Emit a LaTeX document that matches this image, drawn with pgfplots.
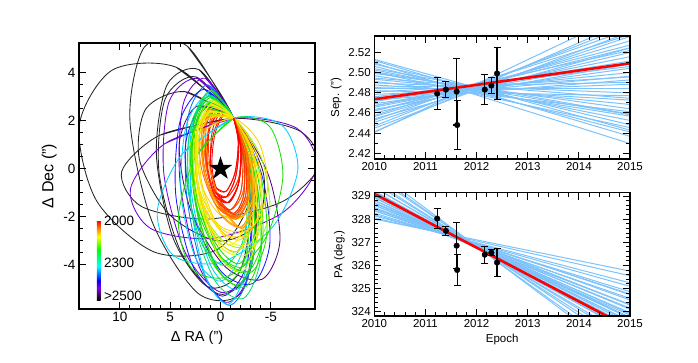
\documentclass[border=0pt]{standalone}
\usepackage{pgfplots}
\pgfplotsset{compat=1.18}
\usepackage{fontspec}
\setmainfont{Liberation Sans}
\definecolor{cR1}{rgb}{1,0,0}
\definecolor{cR2}{rgb}{1,0.22,0}
\definecolor{cO1}{rgb}{1,0.42,0}
\definecolor{cO2}{rgb}{1,0.6,0}
\definecolor{cY1}{rgb}{1,0.82,0}
\definecolor{cY2}{rgb}{0.92,0.95,0}
\definecolor{cYG}{rgb}{0.6,0.95,0}
\definecolor{cG1}{rgb}{0.1,0.88,0}
\definecolor{cG2}{rgb}{0,0.88,0.45}
\definecolor{cC1}{rgb}{0,0.82,1}
\definecolor{cA1}{rgb}{0,0.45,1}
\definecolor{cB1}{rgb}{0.1,0.1,1}
\definecolor{cP1}{rgb}{0.45,0,0.85}
\definecolor{cP2}{rgb}{0.35,0,0.5}
\definecolor{cK}{rgb}{0.15,0.15,0.15}
\definecolor{fancol}{rgb}{0.49,0.76,0.98}
\pgfplotsset{colormap={orb}{rgb(0pt)=(0,0,0); rgb(50pt)=(0.35,0,0.5); rgb(80pt)=(0.5,0,0.9); rgb(125pt)=(0,0,1); rgb(170pt)=(0,0.5,1); rgb(215pt)=(0,1,1); rgb(320pt)=(0,1,0); rgb(400pt)=(1,1,0); rgb(455pt)=(1,0.5,0); rgb(500pt)=(1,0,0)}}
\pgfdeclareplotmark{bigstar}{%
  \pgfpathmoveto{\pgfpointpolar{90}{\pgfplotmarksize}}%
  \pgfpathlineto{\pgfpointpolar{126}{0.382\pgfplotmarksize}}%
  \pgfpathlineto{\pgfpointpolar{162}{\pgfplotmarksize}}%
  \pgfpathlineto{\pgfpointpolar{198}{0.382\pgfplotmarksize}}%
  \pgfpathlineto{\pgfpointpolar{234}{\pgfplotmarksize}}%
  \pgfpathlineto{\pgfpointpolar{270}{0.382\pgfplotmarksize}}%
  \pgfpathlineto{\pgfpointpolar{306}{\pgfplotmarksize}}%
  \pgfpathlineto{\pgfpointpolar{342}{0.382\pgfplotmarksize}}%
  \pgfpathlineto{\pgfpointpolar{18}{\pgfplotmarksize}}%
  \pgfpathlineto{\pgfpointpolar{54}{0.382\pgfplotmarksize}}%
  \pgfpathclose
  \pgfusepathqfill
}
\pgfplotsset{
  idl/.style={scale only axis, anchor=south west, axis on top,
    axis line style={line width=1.1pt}, tick align=inside, xtick pos=both, ytick pos=both,
    every tick/.style={black, line width=0.8pt}, major tick length=7pt, minor tick length=4pt,
    /pgf/number format/assume math mode=true},
  orb/.style={smooth, no markers, line width=0.85pt},
  fan/.style={no markers, color=fancol, line width=1pt},
}
\begin{document}
\begin{tikzpicture}
\path[use as bounding box] (0,0) rectangle (698pt,362pt);
% ---------------- left panel: orbits ----------------
\begin{axis}[idl, at={(79pt,53pt)}, width=236pt, height=266pt,
  x dir=reverse, xmin=-9.38, xmax=14.05, ymin=-5.85, ymax=5.24,
  xtick={-5,0,5,10}, ytick={-4,-2,0,2,4}, minor x tick num=4, minor y tick num=3,
  tick label style={font=\fontsize{13.5}{15}\selectfont},
  xlabel style={font=\fontsize{14.5}{16}\selectfont, yshift=-2pt},
  ylabel style={font=\fontsize{16}{18}\selectfont},
  xlabel={Δ RA (")}, ylabel={Δ Dec (")}]
% black (>2500)
\addplot[orb,cK] coordinates {(-1.3,2.1)(6.02,1.397)(9.814,-0.125)(7.859,-1.573)(1.3,-2.1)(-6.02,-1.397)(-9.814,0.125)(-7.859,1.573)(-1.3,2.1)(6.02,1.397)};
\addplot[orb,cK] coordinates {(-1.3,2.1)(4.415,4.231)(10.765,4.106)(14.031,1.797)(12.3,-1.342)(6.585,-3.473)(0.235,-3.348)(-3.031,-1.039)(-1.3,2.1)(4.415,4.231)};
\addplot[orb,cK] coordinates {(-1.3,2.1)(3.273,5.098)(7.54,5.08)(9.001,2.057)(6.8,-2.2)(2.227,-5.198)(-2.04,-5.18)(-3.501,-2.157)(-1.3,2.1)(3.273,5.098)};
\addplot[orb,cK] coordinates {(-1.3,2.1)(2.432,3.826)(5.5,2.9)(6.108,-0.134)(3.9,-3.5)(0.168,-5.226)(-2.9,-4.3)(-3.508,-1.266)(-1.3,2.1)(2.432,3.826)};
\addplot[orb,cK] coordinates {(-1.3,2.1)(2.125,4.126)(5.3,3.5)(6.367,0.59)(4.7,-2.9)(1.275,-4.926)(-1.9,-4.3)(-2.967,-1.39)(-1.3,2.1)(2.125,4.126)};
\addplot[orb,cK] coordinates {(-1.3,2.1)(3.526,3.211)(7.4,2.5)(8.052,0.383)(5.1,-1.9)(0.274,-3.011)(-3.6,-2.3)(-4.252,-0.183)(-1.3,2.1)(3.526,3.211)};
% red / orange full loops (underneath)
\addplot[orb,cR1] coordinates {(-1.3,2.1)(-0.258,2.282)(0.7,1.45)(1.014,0.09)(0.5,-1.0)(-0.542,-1.182)(-1.5,-0.35)(-1.814,1.01)(-1.3,2.1)(-0.258,2.282)};
\addplot[orb,cR1] coordinates {(-1.3,2.1)(-0.147,2.409)(0.8,1.6)(0.985,0.147)(0.3,-1.1)(-0.853,-1.409)(-1.8,-0.6)(-1.985,0.853)(-1.3,2.1)(-0.147,2.409)};
\addplot[orb,cR2] coordinates {(-1.3,2.1)(0.054,2.368)(1.2,1.6)(1.468,0.246)(0.7,-0.9)(-0.654,-1.168)(-1.8,-0.4)(-2.068,0.954)(-1.3,2.1)(0.054,2.368)};
\addplot[orb,cR2] coordinates {(-1.3,2.1)(0.08,2.521)(1.15,1.7)(1.282,0.117)(0.4,-1.3)(-0.98,-1.721)(-2.05,-0.9)(-2.182,0.683)(-1.3,2.1)(0.08,2.521)};
\addplot[orb,cO1] coordinates {(-1.3,2.1)(0.321,2.607)(1.55,1.85)(1.665,0.273)(0.6,-1.2)(-1.021,-1.707)(-2.25,-0.95)(-2.365,0.627)(-1.3,2.1)(0.321,2.607)};
\addplot[orb,cO1] coordinates {(-1.3,2.1)(0.405,2.704)(1.55,1.9)(1.465,0.158)(0.2,-1.5)(-1.505,-2.104)(-2.65,-1.3)(-2.565,0.442)(-1.3,2.1)(0.405,2.704)};
\addplot[orb,cR1] coordinates {(-1.3,2.1)(-0.344,2.241)(0.55,1.45)(0.858,0.191)(0.4,-0.8)(-0.556,-0.941)(-1.45,-0.15)(-1.758,1.109)(-1.3,2.1)(-0.344,2.241)};
\addplot[orb,cR2] coordinates {(-1.3,2.1)(0.107,2.663)(1.1,1.9)(1.097,0.259)(0.1,-1.3)(-1.307,-1.863)(-2.3,-1.1)(-2.297,0.541)(-1.3,2.1)(0.107,2.663)};
\addplot[orb,cR1] coordinates {(-1.3,2.1)(0.003,2.409)(1.1,1.6)(1.347,0.147)(0.6,-1.1)(-0.703,-1.409)(-1.8,-0.6)(-2.047,0.853)(-1.3,2.1)(0.003,2.409)};
\addplot[orb,cR2] coordinates {(-1.3,2.1)(0.299,2.612)(1.4,1.8)(1.359,0.138)(0.2,-1.4)(-1.399,-1.912)(-2.5,-1.1)(-2.459,0.562)(-1.3,2.1)(0.299,2.612)};
\addplot[orb,cO1] coordinates {(-1.3,2.1)(0.661,2.634)(2.0,1.8)(1.933,0.088)(0.5,-1.5)(-1.461,-2.034)(-2.8,-1.2)(-2.733,0.512)(-1.3,2.1)(0.661,2.634)};
\addplot[orb,cO2] coordinates {(-1.3,2.1)(0.714,2.392)(1.9,1.4)(1.562,-0.294)(-0.1,-1.7)(-2.114,-1.992)(-3.3,-1.0)(-2.962,0.694)(-1.3,2.1)(0.714,2.392)};
\addplot[orb,cY1] coordinates {(-1.3,2.1)(0.956,2.221)(2.3,1.1)(1.946,-0.607)(0.1,-1.9)(-2.156,-2.021)(-3.5,-0.9)(-3.146,0.807)(-1.3,2.1)(0.956,2.221)};
\addplot[orb,cO2] coordinates {(-1.3,2.1)(0.472,2.886)(1.5,2.1)(1.18,0.2)(-0.3,-1.7)(-2.072,-2.486)(-3.1,-1.7)(-2.78,0.2)(-1.3,2.1)(0.472,2.886)};
\addplot[orb,cO1] coordinates {(-1.3,2.1)(0.49,2.477)(1.7,1.55)(1.622,-0.139)(0.3,-1.6)(-1.49,-1.977)(-2.7,-1.05)(-2.622,0.639)(-1.3,2.1)(0.49,2.477)};
\addplot[orb,cO2] coordinates {(-1.3,2.1)(0.658,2.645)(1.85,1.7)(1.578,-0.183)(0,-1.9)(-1.958,-2.445)(-3.15,-1.5)(-2.878,0.383)(-1.3,2.1)(0.658,2.645)};
% purple
\addplot[orb,cP1] coordinates {(-1.3,2.1)(1.49,3.767)(3.7,2.7)(4.036,-0.475)(2.3,-3.9)(-0.49,-5.567)(-2.7,-4.5)(-3.036,-1.325)(-1.3,2.1)(1.49,3.767)};
\addplot[orb,cP2] coordinates {(-1.3,2.1)(2.353,2.606)(4.1,1.0)(2.919,-1.778)(-0.5,-4.1)(-4.153,-4.606)(-5.9,-3.0)(-4.719,-0.222)(-1.3,2.1)(2.353,2.606)};
\addplot[orb,cP1] coordinates {(-1.3,2.1)(2.231,3.755)(5.1,2.8)(5.625,-0.205)(3.5,-3.5)(-0.031,-5.155)(-2.9,-4.2)(-3.425,-1.195)(-1.3,2.1)(2.231,3.755)};
\addplot[orb,cP1] coordinates {(-1.3,2.1)(5.531,1.043)(8.946,-0.859)(6.945,-2.492)(0.7,-2.9)(-6.131,-1.843)(-9.546,0.059)(-7.545,1.692)(-1.3,2.1)(5.531,1.043)};
% blue
\addplot[orb,cA1] coordinates {(-1.3,2.1)(1.26,3.496)(3.2,2.2)(3.382,-1.03)(1.7,-4.3)(-0.86,-5.696)(-2.8,-4.4)(-2.982,-1.17)(-1.3,2.1)(1.26,3.496)};
\addplot[orb,cB1] coordinates {(-1.3,2.1)(1.846,2.577)(3.5,0.9)(2.694,-1.949)(-0.1,-4.3)(-3.246,-4.777)(-4.9,-3.1)(-4.094,-0.251)(-1.3,2.1)(1.846,2.577)};
\addplot[orb,cB1] coordinates {(-1.3,2.1)(1.619,3.313)(4.0,2.0)(4.447,-1.071)(2.7,-4.1)(-0.219,-5.313)(-2.6,-4.0)(-3.047,-0.929)(-1.3,2.1)(1.619,3.313)};
% cyan
\addplot[orb,cC1] coordinates {(-1.3,2.1)(0.948,3.254)(2.7,1.8)(2.928,-1.412)(1.5,-4.5)(-0.748,-5.654)(-2.5,-4.2)(-2.728,-0.988)(-1.3,2.1)(0.948,3.254)};
\addplot[orb,cG2] coordinates {(-1.3,2.1)(1.51,2.801)(3.2,1.1)(2.782,-2.007)(0.5,-4.7)(-2.31,-5.401)(-4.0,-3.7)(-3.582,-0.593)(-1.3,2.1)(1.51,2.801)};
\addplot[orb,cC1] coordinates {(-1.3,2.1)(1.237,3.089)(3.4,1.8)(3.923,-1.013)(2.5,-3.7)(-0.037,-4.689)(-2.2,-3.4)(-2.723,-0.587)(-1.3,2.1)(1.237,3.089)};
\addplot[orb,cC1] coordinates {(-1.3,2.1)(3.807,0.614)(6.274,-1.759)(4.656,-3.629)(-0.1,-3.9)(-5.207,-2.414)(-7.674,-0.041)(-6.056,1.829)(-1.3,2.1)(3.807,0.614)};
\addplot[orb,cC1] coordinates {(-1.3,2.1)(1.214,3.03)(2.9,1.6)(2.77,-1.354)(0.9,-4.1)(-1.614,-5.03)(-3.3,-3.6)(-3.17,-0.646)(-1.3,2.1)(1.214,3.03)};
% green
\addplot[orb,cG1] coordinates {(-1.3,2.1)(1.114,3.059)(2.7,1.7)(2.528,-1.183)(0.7,-3.9)(-1.714,-4.859)(-3.3,-3.5)(-3.128,-0.617)(-1.3,2.1)(1.114,3.059)};
\addplot[orb,cG1] coordinates {(-1.3,2.1)(1.309,2.719)(2.8,1.1)(2.299,-1.807)(0.1,-4.3)(-2.509,-4.919)(-4.0,-3.3)(-3.499,-0.393)(-1.3,2.1)(1.309,2.719)};
\addplot[orb,cG1] coordinates {(-1.3,2.1)(0.919,3.26)(2.6,2.1)(2.757,-0.7)(1.3,-3.5)(-0.919,-4.66)(-2.6,-3.5)(-2.757,-0.7)(-1.3,2.1)(0.919,3.26)};
\addplot[orb,cG1] coordinates {(-1.3,2.1)(1.533,2.494)(3.0,0.9)(2.241,-1.748)(-0.3,-3.9)(-3.133,-4.294)(-4.6,-2.7)(-3.841,-0.052)(-1.3,2.1)(1.533,2.494)};
\addplot[orb,cG2] coordinates {(-1.3,2.1)(1.007,3.035)(2.9,1.9)(3.269,-0.641)(1.9,-3.1)(-0.407,-4.035)(-2.3,-2.9)(-2.669,-0.359)(-1.3,2.1)(1.007,3.035)};
\addplot[orb,cG1] coordinates {(-1.3,2.1)(1.197,2.694)(2.7,1.3)(2.329,-1.266)(0.3,-3.5)(-2.197,-4.094)(-3.7,-2.7)(-3.329,-0.134)(-1.3,2.1)(1.197,2.694)};
\addplot[orb,cG1] coordinates {(-1.3,2.1)(2.458,0.511)(4.191,-2.080)(2.883,-4.155)(-0.7,-4.5)(-4.458,-2.911)(-6.191,-0.320)(-4.883,1.755)(-1.3,2.1)(2.458,0.511)};
\addplot[orb,cG1] coordinates {(-1.3,2.1)(1.015,2.964)(2.5,1.8)(2.287,-0.712)(0.5,-3.1)(-1.815,-3.964)(-3.3,-2.8)(-3.087,-0.288)(-1.3,2.1)(1.015,2.964)};
\addplot[orb,cG1] coordinates {(-1.3,2.1)(1.351,2.665)(2.8,1.2)(2.199,-1.437)(-0.1,-3.7)(-2.751,-4.265)(-4.2,-2.8)(-3.599,-0.163)(-1.3,2.1)(1.351,2.665)};
\addplot[orb,cYG] coordinates {(-1.3,2.1)(0.831,2.882)(2.3,1.8)(2.245,-0.512)(0.7,-2.7)(-1.431,-3.482)(-2.9,-2.4)(-2.845,-0.088)(-1.3,2.1)(0.831,2.882)};
% yellow
\addplot[orb,cYG] coordinates {(-1.3,2.1)(1.645,2.187)(3.1,0.7)(2.211,-1.489)(-0.5,-3.1)(-3.445,-3.187)(-4.9,-1.7)(-4.011,0.489)(-1.3,2.1)(1.645,2.187)};
\addplot[orb,cY1] coordinates {(-1.3,2.1)(1.055,2.375)(2.5,1.2)(2.187,-0.737)(0.3,-2.3)(-2.055,-2.575)(-3.5,-1.4)(-3.187,0.537)(-1.3,2.1)(1.055,2.375)};
\addplot[orb,cY1] coordinates {(-1.3,2.1)(1.179,2.104)(2.5,0.7)(1.887,-1.29)(-0.3,-2.7)(-2.779,-2.704)(-4.1,-1.3)(-3.487,0.69)(-1.3,2.1)(1.179,2.104)};
\addplot[orb,cY1] coordinates {(-1.3,2.1)(0.944,2.641)(2.4,1.4)(2.216,-0.895)(0.5,-2.9)(-1.744,-3.441)(-3.2,-2.2)(-3.016,0.095)(-1.3,2.1)(0.944,2.641)};
\addplot[orb,cY2] coordinates {(-1.3,2.1)(1.28,2.37)(2.7,0.9)(2.128,-1.448)(-0.1,-3.3)(-2.68,-3.57)(-4.1,-2.1)(-3.528,0.248)(-1.3,2.1)(1.28,2.37)};
\addplot[orb,cY1] coordinates {(-1.3,2.1)(1.305,1.68)(2.5,0.1)(1.587,-1.714)(-0.9,-2.7)(-3.505,-2.28)(-4.7,-0.7)(-3.787,1.114)(-1.3,2.1)(1.305,1.68)};
\addplot[orb,cY2] coordinates {(-1.3,2.1)(1.026,2.665)(2.4,1.2)(2.016,-1.437)(0.1,-3.7)(-2.226,-4.265)(-3.6,-2.8)(-3.216,-0.163)(-1.3,2.1)(1.026,2.665)};
\addplot[orb,cY2] coordinates {(-1.3,2.1)(0.719,2.769)(2.2,1.7)(2.275,-0.483)(0.9,-2.5)(-1.119,-3.169)(-2.6,-2.1)(-2.675,0.083)(-1.3,2.1)(0.719,2.769)};
\addplot[orb,cY1] coordinates {(-1.3,2.1)(0.814,2.557)(2.1,1.4)(1.804,-0.695)(0.1,-2.5)(-2.014,-2.957)(-3.3,-1.8)(-3.004,0.295)(-1.3,2.1)(0.814,2.557)};
\addplot[orb,cY2] coordinates {(-1.3,2.1)(1.08,2.358)(2.3,1.0)(1.646,-1.178)(-0.5,-2.9)(-2.88,-3.158)(-4.1,-1.8)(-3.446,0.378)(-1.3,2.1)(1.08,2.358)};
% red / orange right-hand arcs on top
\addplot[orb,cY1] coordinates {(0.1,-1.9)(-2.156,-2.021)(-3.5,-0.9)(-3.146,0.807)(-1.3,2.1)};
\addplot[orb,cO2] coordinates {(-0.1,-1.7)(-2.114,-1.992)(-3.3,-1.0)(-2.962,0.694)(-1.3,2.1)};
\addplot[orb,cO2] coordinates {(-0.3,-1.7)(-2.072,-2.486)(-3.1,-1.7)(-2.78,0.2)(-1.3,2.1)};
\addplot[orb,cO2] coordinates {(0,-1.9)(-1.958,-2.445)(-3.15,-1.5)(-2.878,0.383)(-1.3,2.1)};
\addplot[orb,cO1] coordinates {(0.5,-1.5)(-1.461,-2.034)(-2.8,-1.2)(-2.733,0.512)(-1.3,2.1)};
\addplot[orb,cO1] coordinates {(0.3,-1.6)(-1.49,-1.977)(-2.7,-1.05)(-2.622,0.639)(-1.3,2.1)};
\addplot[orb,cO1] coordinates {(0.2,-1.5)(-1.505,-2.104)(-2.65,-1.3)(-2.565,0.442)(-1.3,2.1)};
\addplot[orb,cO1] coordinates {(0.6,-1.2)(-1.021,-1.707)(-2.25,-0.95)(-2.365,0.627)(-1.3,2.1)};
\addplot[orb,cR2] coordinates {(0.2,-1.4)(-1.399,-1.912)(-2.5,-1.1)(-2.459,0.562)(-1.3,2.1)};
\addplot[orb,cR2] coordinates {(0.4,-1.3)(-0.98,-1.721)(-2.05,-0.9)(-2.182,0.683)(-1.3,2.1)};
\addplot[orb,cR2] coordinates {(0.1,-1.3)(-1.307,-1.863)(-2.3,-1.1)(-2.297,0.541)(-1.3,2.1)};
\addplot[orb,cR2] coordinates {(0.7,-0.9)(-0.654,-1.168)(-1.8,-0.4)(-2.068,0.954)(-1.3,2.1)};
\addplot[orb,cR1] coordinates {(0.6,-1.1)(-0.703,-1.409)(-1.8,-0.6)(-2.047,0.853)(-1.3,2.1)};
\addplot[orb,cR1] coordinates {(0.3,-1.1)(-0.853,-1.409)(-1.8,-0.6)(-1.985,0.853)(-1.3,2.1)};
\addplot[orb,cR1] coordinates {(0.5,-1.0)(-0.542,-1.182)(-1.5,-0.35)(-1.814,1.01)(-1.3,2.1)};
\addplot[orb,cR1] coordinates {(0.4,-0.8)(-0.556,-0.941)(-1.45,-0.15)(-1.758,1.109)(-1.3,2.1)};
% star
\addplot[only marks, mark=bigstar, mark size=12.4pt, black] coordinates {(0,0)};
\end{axis}
\pgfplotscolorbardrawstandalone[colormap name=orb, point meta min=0, point meta max=500,
  colorbar style={at={(88.3pt,61.3pt)}, anchor=south west, scale only axis, width=3.7pt, height=80pt,
    ytick={29,235,500}, yticklabels={>2500,2300,2000}, major tick length=0pt, minor tick length=0pt,
    axis line style={draw=none}, yticklabel pos=right,
    yticklabel style={font=\fontsize{13.5}{15}\selectfont, black}}]
% ---------------- top right: separation ----------------
\begin{axis}[idl, at={(374.3pt,203pt)}, width=255.7pt, height=123pt,
  xmin=2010, xmax=2015, ymin=2.4144, ymax=2.536,
  xtick={2010,2011,2012,2013,2014,2015}, ytick={2.42,2.44,2.46,2.48,2.50,2.52},
  minor x tick num=4, minor y tick num=1,
  x tick label style={/pgf/number format/1000 sep={}},
  y tick label style={/pgf/number format/.cd, fixed, fixed zerofill, precision=2},
  tick label style={font=\fontsize{11.5}{13}\selectfont},
  label style={font=\fontsize{11.5}{13}\selectfont},
  ylabel={Sep. (")}]
\addplot[fan] coordinates {(2010,2.5096)(2015,2.4296)};
\addplot[fan] coordinates {(2010,2.5118)(2015,2.4368)};
\addplot[fan] coordinates {(2010,2.5129)(2015,2.4429)};
\addplot[fan] coordinates {(2010,2.5061)(2015,2.4411)};
\addplot[fan] coordinates {(2010,2.5082)(2015,2.4482)};
\addplot[fan] coordinates {(2010,2.5004)(2015,2.4454)};
\addplot[fan] coordinates {(2010,2.5025)(2015,2.4525)};
\addplot[fan] coordinates {(2010,2.5037)(2015,2.4587)};
\addplot[fan] coordinates {(2010,2.4968)(2015,2.4568)};
\addplot[fan] coordinates {(2010,2.4990)(2015,2.4640)};
\addplot[fan] coordinates {(2010,2.4911)(2015,2.4611)};
\addplot[fan] coordinates {(2010,2.4933)(2015,2.4683)};
\addplot[fan] coordinates {(2010,2.4944)(2015,2.4744)};
\addplot[fan] coordinates {(2010,2.4876)(2015,2.4726)};
\addplot[fan] coordinates {(2010,2.4897)(2015,2.4797)};
\addplot[fan] coordinates {(2010,2.4819)(2015,2.4769)};
\addplot[fan] coordinates {(2010,2.4840)(2015,2.4840)};
\addplot[fan] coordinates {(2010,2.4852)(2015,2.4902)};
\addplot[fan] coordinates {(2010,2.4783)(2015,2.4883)};
\addplot[fan] coordinates {(2010,2.4805)(2015,2.4955)};
\addplot[fan] coordinates {(2010,2.4726)(2015,2.4926)};
\addplot[fan] coordinates {(2010,2.4748)(2015,2.4998)};
\addplot[fan] coordinates {(2010,2.4759)(2015,2.5059)};
\addplot[fan] coordinates {(2010,2.4691)(2015,2.5041)};
\addplot[fan] coordinates {(2010,2.4712)(2015,2.5112)};
\addplot[fan] coordinates {(2010,2.4634)(2015,2.5084)};
\addplot[fan] coordinates {(2010,2.4655)(2015,2.5155)};
\addplot[fan] coordinates {(2010,2.4667)(2015,2.5217)};
\addplot[fan] coordinates {(2010,2.4598)(2015,2.5198)};
\addplot[fan] coordinates {(2010,2.4620)(2015,2.5270)};
\addplot[fan] coordinates {(2010,2.4541)(2015,2.5241)};
\addplot[fan] coordinates {(2010,2.4563)(2015,2.5313)};
\addplot[fan] coordinates {(2010,2.4574)(2015,2.5374)};
\addplot[fan] coordinates {(2010,2.4506)(2015,2.5356)};
\addplot[fan] coordinates {(2010,2.4527)(2015,2.5427)};
\addplot[fan] coordinates {(2010,2.4449)(2015,2.5399)};
\addplot[fan] coordinates {(2010,2.4470)(2015,2.5470)};
\addplot[fan] coordinates {(2010,2.4413)(2015,2.5513)};
\addplot[fan] coordinates {(2010,2.4406)(2015,2.5606)};
\addplot[fan] coordinates {(2010,2.4737)(2015,2.4962)};
\addplot[fan] coordinates {(2010,2.4673)(2015,2.5098)};
\addplot[fan] coordinates {(2010,2.5007)(2015,2.4582)};
\addplot[fan] coordinates {(2010,2.4619)(2015,2.5244)};
\addplot[no markers, red, line width=2.6pt] coordinates {(2010,2.4735)(2015,2.509)};
\addplot[only marks, mark=*, mark size=2.8pt, black,
  error bars/.cd, y dir=both, y explicit,
  error bar style={line width=1.1pt, black},
  error mark options={rotate=90, line width=1.1pt, mark size=3.5pt, black}]
  table[x=t, y=v, y error=e] {
t v e
2011.23 2.479 0.016
2011.40 2.483 0.008
2011.61 2.481 0.033
2011.62 2.448 0.024
2012.16 2.483 0.015
2012.29 2.487 0.008
2012.40 2.499 0.026
};
\end{axis}
% ---------------- bottom right: position angle ----------------
\begin{axis}[idl, at={(374.3pt,46pt)}, width=255.7pt, height=123.3pt,
  xmin=2010, xmax=2015, ymin=323.81, ymax=329.14,
  xtick={2010,2011,2012,2013,2014,2015}, ytick={324,325,326,327,328,329},
  minor x tick num=4, minor y tick num=4,
  x tick label style={/pgf/number format/1000 sep={}},
  y tick label style={/pgf/number format/1000 sep={}},
  tick label style={font=\fontsize{11.5}{13}\selectfont},
  label style={font=\fontsize{11.5}{13}\selectfont},
  ylabel={PA (deg.)}, xlabel={Epoch}]
\addplot[fan] coordinates {(2010,328.00)(2015,325.75)};
\addplot[fan] coordinates {(2010,328.05)(2015,325.55)};
\addplot[fan] coordinates {(2010,328.19)(2015,325.09)};
\addplot[fan] coordinates {(2010,328.26)(2015,324.86)};
\addplot[fan] coordinates {(2010,328.36)(2015,324.76)};
\addplot[fan] coordinates {(2010,328.37)(2015,324.57)};
\addplot[fan] coordinates {(2010,328.50)(2015,324.50)};
\addplot[fan] coordinates {(2010,328.46)(2015,324.31)};
\addplot[fan] coordinates {(2010,328.60)(2015,324.30)};
\addplot[fan] coordinates {(2010,328.60)(2015,324.15)};
\addplot[fan] coordinates {(2010,328.70)(2015,324.10)};
\addplot[fan] coordinates {(2010,328.70)(2015,323.95)};
\addplot[fan] coordinates {(2010,328.81)(2015,323.91)};
\addplot[fan] coordinates {(2010,328.80)(2015,323.75)};
\addplot[fan] coordinates {(2010,328.91)(2015,323.71)};
\addplot[fan] coordinates {(2010,328.94)(2015,323.59)};
\addplot[fan] coordinates {(2010,329.06)(2015,323.56)};
\addplot[fan] coordinates {(2010,329.04)(2015,323.39)};
\addplot[fan] coordinates {(2010,329.14)(2015,323.34)};
\addplot[fan] coordinates {(2010,329.20)(2015,323.20)};
\addplot[fan] coordinates {(2010,329.35)(2015,323.10)};
\addplot[fan] coordinates {(2010,329.38)(2015,322.88)};
\addplot[fan] coordinates {(2010,329.54)(2015,322.74)};
\addplot[fan] coordinates {(2010,329.64)(2015,322.54)};
\addplot[fan] coordinates {(2010,329.84)(2015,322.34)};
\addplot[fan] coordinates {(2010,329.96)(2015,322.06)};
\addplot[fan] coordinates {(2010,330.12)(2015,321.87)};
\addplot[fan] coordinates {(2010,328.14)(2015,325.24)};
\addplot[fan] coordinates {(2010,328.43)(2015,324.73)};
\addplot[fan] coordinates {(2010,328.68)(2015,324.28)};
\addplot[fan] coordinates {(2010,328.70)(2015,323.85)};
\addplot[fan] coordinates {(2010,329.00)(2015,323.75)};
\addplot[fan] coordinates {(2010,329.08)(2015,323.48)};
\addplot[fan] coordinates {(2010,329.20)(2015,323.10)};
\addplot[no markers, red, line width=2.6pt] coordinates {(2010,329.09)(2015,323.28)};
\addplot[only marks, mark=*, mark size=2.8pt, black,
  error bars/.cd, y dir=both, y explicit,
  error bar style={line width=1.1pt, black},
  error mark options={rotate=90, line width=1.1pt, mark size=3.5pt, black}]
  table[x=t, y=v, y error=e] {
t v e
2011.23 328.02 0.42
2011.40 327.49 0.19
2011.61 326.85 1.00
2011.62 325.80 0.67
2012.16 326.46 0.37
2012.29 326.55 0.13
2012.40 326.12 0.62
};
\end{axis}
\end{tikzpicture}
\end{document}
